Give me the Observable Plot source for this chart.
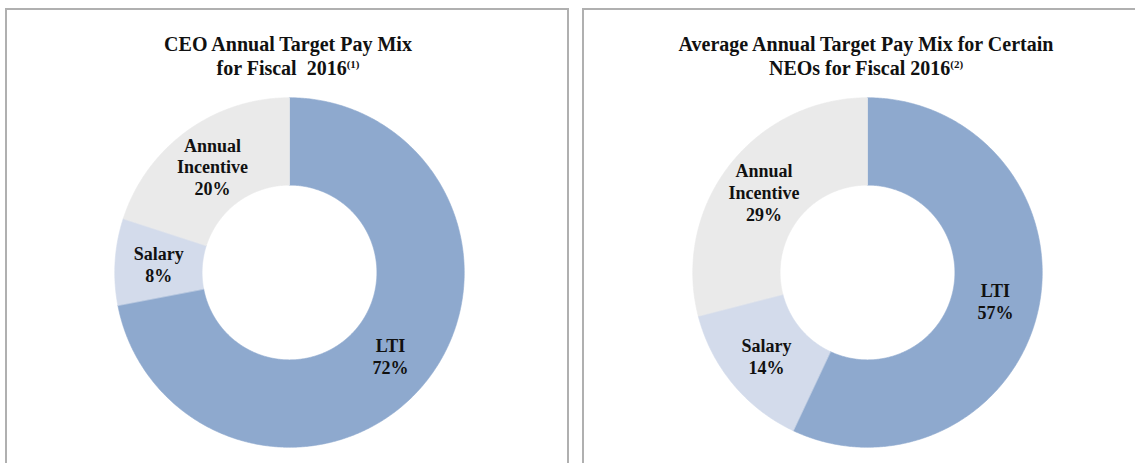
<!DOCTYPE html>
<html>
<head>
<meta charset="utf-8">
<script src="https://cdn.jsdelivr.net/npm/d3@7"></script>
<script src="https://cdn.jsdelivr.net/npm/@observablehq/plot@0.6"></script>
<style>
  html, body { margin: 0; padding: 0; background: #fff; }
  #root { position: relative; width: 1135px; height: 463px; overflow: hidden; background: #fff; }
  .panel { position: absolute; top: 8px; height: 520px; border: 2px solid #b0b0b0; box-sizing: border-box; background: #fff; }
  .title { position: absolute; width: 600px; text-align: center; font-family: "Liberation Serif", "Times New Roman", serif;
           font-weight: bold; font-size: 20px; line-height: 24px; color: #111; }
  .title sup { font-size: 11px; vertical-align: 7px; line-height: 0; }
  .chart { position: absolute; }
</style>
</head>
<body>
<div id="root"></div>
<script>
// ---- data ----
const categories = ["LTI", "Salary", "Annual Incentive"];
const labelText = ["LTI", "Salary", "Annual\nIncentive"];
const ceoValues = [72, 8, 20];
const neoValues = [57, 14, 29];
const ceoTitle = ["CEO Annual Target Pay Mix", "for Fiscal\u00a0 2016", "(1)"];
const neoTitle = ["Average Annual Target Pay Mix for Certain", "NEOs for Fiscal 2016", "(2)"];
const sliceColors = ["#8ea9ce", "#d3dbeb", "#eaeaea"];

const root = document.getElementById("root");

function donut(values, cx, cy) {
  const total = d3.sum(values);
  const inner = 0.5;
  const polys = [];
  const labels = [];
  let acc = 0;
  values.forEach((v, i) => {
    const a0 = acc / total * 2 * Math.PI;
    acc += v;
    const a1 = acc / total * 2 * Math.PI;
    const n = Math.max(2, Math.ceil((a1 - a0) / (Math.PI / 360)));
    const pts = [];
    for (let k = 0; k <= n; k++) {
      const a = a0 + (a1 - a0) * k / n;
      pts.push({cat: categories[i], x: Math.sin(a), y: Math.cos(a)});
    }
    for (let k = n; k >= 0; k--) {
      const a = a0 + (a1 - a0) * k / n;
      pts.push({cat: categories[i], x: inner * Math.sin(a), y: inner * Math.cos(a)});
    }
    polys.push(...pts);
    const am = (a0 + a1) / 2;
    const rm = (1 + inner) / 2;
    labels.push({x: rm * Math.sin(am), y: rm * Math.cos(am), text: labelText[i] + "\n" + v + "%"});
  });
  const size = 360;
  const chart = Plot.plot({
    width: size, height: size,
    margin: 0,
    x: {domain: [-1.03, 1.03], axis: null},
    y: {domain: [-1.03, 1.03], axis: null},
    color: {domain: categories, range: sliceColors},
    style: {background: "transparent"},
    marks: [
      Plot.line(polys, {x: "x", y: "y", z: "cat", fill: "cat", stroke: "cat", strokeWidth: 0.6, curve: "linear-closed"}),
      Plot.text(labels, {x: "x", y: "y", text: "text", fontFamily: "Liberation Serif, Times New Roman, serif",
        fontWeight: "bold", fontSize: 18, lineHeight: 1.2, fill: "#111", lineAnchor: "middle"})
    ]
  });
  chart.classList.add("chart");
  chart.style.left = (cx - size / 2) + "px";
  chart.style.top = (cy - size / 2) + "px";
  return chart;
}

function panel(left, width) {
  const p = document.createElement("div");
  p.className = "panel";
  p.style.left = left + "px";
  p.style.width = width + "px";
  root.appendChild(p);
}

function title(lines, cx, top) {
  const t = document.createElement("div");
  t.className = "title";
  t.style.left = (cx - 300) + "px";
  t.style.top = top + "px";
  const l1 = document.createElement("div"); l1.textContent = lines[0];
  const l2 = document.createElement("div"); l2.textContent = lines[1];
  const s = document.createElement("sup"); s.textContent = lines[2];
  l2.appendChild(s);
  t.appendChild(l1); t.appendChild(l2);
  root.appendChild(t);
}

panel(5, 564);
panel(582, 570);
title(ceoTitle, 288, 32);
title(neoTitle, 866, 32);
root.appendChild(donut(ceoValues, 288.5, 272));
root.appendChild(donut(neoValues, 866.5, 272));
</script>
</body>
</html>
